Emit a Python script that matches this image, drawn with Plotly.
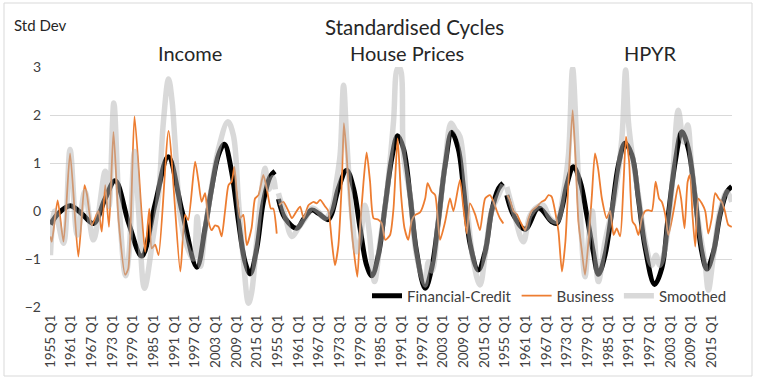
import plotly.graph_objects as go

PANELS = ["Income", "House Prices", "HPYR"]
TICK_YEARS = [1955, 1961, 1967, 1973, 1979, 1985, 1991, 1997, 2003, 2009, 2015]
QUARTERS_PER_PANEL = 264  # 1955 Q1 .. 2020 Q4

# ---- Income ----
INCOME_FC_YEARS = [1955.0, 1957.3, 1960.7, 1964.0, 1967.5, 1970.9, 1973.8, 1977.7, 1981.5, 1985.4,
                   1989.2, 1993.2, 1997.5, 1999.9, 2001.8, 2003.8, 2005.5, 2007.6, 2009.6, 2011.5,
                   2013.0, 2014.9, 2016.8, 2018.8, 2020.2]
INCOME_FC = [-0.28, -0.05, 0.11, -0.05, -0.26, 0.26, 0.63, -0.25, -0.94, 0.15,
             1.13, 0.0, -1.17, -0.36, 0.47, 1.17, 1.39, 0.82, -0.22, -1.06,
             -1.31, -0.78, 0.19, 0.72, 0.83]
INCOME_BUS_YEARS = [1955.0, 1955.4, 1957.1, 1958.8, 1960.7, 1963.1, 1964.9, 1965.6, 1967.0, 1968.9,
                    1969.9, 1970.9, 1972.0, 1973.3, 1974.8, 1976.7, 1977.6, 1979.4, 1981.5, 1982.5,
                    1983.7, 1984.4, 1985.4, 1986.4, 1989.3, 1992.7, 1994.1, 1995.0, 1997.0, 1998.0,
                    1998.9, 1999.9, 2000.9, 2001.8, 2002.8, 2003.8, 2004.7, 2005.7, 2006.7, 2007.6,
                    2008.4, 2009.1, 2010.1, 2011.0, 2012.0, 2013.4, 2014.4, 2015.4, 2016.8, 2017.8,
                    2019.0, 2019.7, 2020.7]
INCOME_BUS = [-0.53, -0.64, 0.22, -0.64, 1.2, -0.95, 0.54, 0.35, -0.3, 0.0,
              -0.43, 0.54, -0.33, 1.65, -0.2, -1.33, -1.2, 1.97, -0.08, -0.85,
              0.05, -0.78, -0.7, -0.92, 1.67, -1.26, -0.08, -0.19, 1.03, 0.61,
              0.19, 0.37, -0.22, -0.4, -0.3, -0.33, -0.53, 0.0, 0.54, 0.61,
              0.92, 0.4, -0.15, -0.08, -0.71, -0.35, 0.26, 0.33, 0.75, 0.47,
              0.05, 0.05, -0.47]
INCOME_SM_YEARS = [1955.0, 1956.3, 1958.8, 1960.7, 1962.8, 1965.0, 1967.5, 1970.9, 1972.0, 1973.4,
                   1974.8, 1976.8, 1977.8, 1979.4, 1980.6, 1982.3, 1984.5, 1986.4, 1987.8, 1989.3,
                   1990.3, 1991.2, 1992.7, 1994.5, 1996.5, 1997.6, 1998.6, 1999.9, 2001.8, 2003.8,
                   2006.5, 2008.1, 2009.6, 2011.0, 2012.5, 2013.4, 2014.9, 2016.3, 2017.3, 2018.4,
                   2019.6, 2020.3]
INCOME_SM = [-0.92, 0.0, -0.67, 1.28, -0.5, 0.4, -0.6, 0.83, 0.1, 2.25,
             0.3, -1.35, -0.9, 1.24, 0.0, -1.61, -0.7, 0.33, 1.86, 2.75,
             2.3, 1.4, -0.1, -0.7, -1.0, -0.12, -1.15, -0.4, 0.5, 1.3,
             1.86, 1.58, 0.2, -1.0, -1.92, -1.7, -0.6, 0.4, 0.89, 0.45,
             0.7, 0.45]

# ---- House Prices ----
HP_FC_YEARS = [1955.2, 1957.1, 1960.5, 1962.7, 1964.9, 1966.8, 1969.6, 1970.7, 1972.6, 1975.0,
               1977.0, 1978.9, 1980.8, 1982.3, 1984.2, 1986.2, 1988.1, 1989.8, 1991.5, 1993.4,
               1995.3, 1997.8, 1999.7, 2001.6, 2003.6, 2005.5, 2007.4, 2008.9, 2010.8, 2013.2,
               2015.2, 2017.1, 2019.1, 2020.4]
HP_FC = [0.25, -0.15, -0.36, -0.15, 0.02, -0.05, -0.18, -0.05, 0.47, 0.85,
         0.47, -0.36, -1.13, -1.35, -0.92, 0.12, 1.1, 1.57, 1.3, 0.33,
         -0.85, -1.61, -1.19, -0.22, 0.96, 1.64, 1.3, 0.5, -0.67, -1.23,
         -0.85, 0.0, 0.47, 0.58]
HP_BUS_YEARS = [1955.4, 1956.6, 1958.1, 1959.1, 1960.5, 1961.5, 1962.5, 1963.9, 1965.4, 1966.3,
                1967.3, 1968.7, 1969.7, 1970.7, 1971.6, 1972.6, 1973.6, 1974.2, 1975.0, 1976.0,
                1977.0, 1978.1, 1978.9, 1979.9, 1980.8, 1981.8, 1982.8, 1984.2, 1985.2, 1986.2,
                1987.6, 1988.6, 1989.8, 1990.8, 1991.8, 1992.9, 1993.9, 1994.9, 1996.3, 1997.8,
                1998.5, 1999.7, 2000.7, 2002.1, 2003.6, 2005.0, 2006.0, 2007.9, 2008.9, 2009.9,
                2010.8, 2012.3, 2013.7, 2015.2, 2016.6, 2017.6, 2018.6, 2019.5, 2020.5]
HP_BUS = [0.12, 0.19, 0.0, -0.15, 0.0, 0.09, -0.15, 0.12, 0.19, 0.16,
          0.23, 0.1, 0.0, -0.64, -1.13, -0.71, 0.61, 1.83, 1.17, 0.0,
          -0.78, -1.37, -0.36, 0.61, 1.22, 0.61, -0.15, -0.18, -0.26, -0.6,
          -0.5, 0.05, 1.51, 0.33, -0.36, -0.6, -0.2, -0.08, -0.03, 0.26,
          0.58, 0.4, 0.33, -0.6, -0.22, 0.26, 0.0, 0.65, 0.06, -0.47,
          0.16, -0.07, -0.4, 0.26, 0.33, 0.2, 0.0, -0.15, -0.26]
HP_SM_YEARS = [1955.2, 1957.1, 1959.1, 1961.0, 1963.0, 1964.9, 1966.8, 1968.7, 1970.7, 1972.0,
               1973.1, 1974.1, 1975.0, 1976.5, 1977.9, 1978.9, 1980.3, 1981.5, 1983.1, 1984.7,
               1986.6, 1988.6, 1989.8, 1990.5, 1991.5, 1993.4, 1995.3, 1997.8, 1998.7, 1999.8,
               2001.6, 2003.6, 2005.3, 2006.5, 2007.9, 2009.9, 2011.8, 2013.7, 2015.2, 2017.1,
               2019.1, 2020.4]
HP_SM = [0.37, -0.1, -0.53, -0.35, -0.15, 0.06, -0.02, -0.15, 0.05, 0.6,
         1.17, 2.62, 1.5, -0.08, -0.85, -0.6, 0.12, -0.4, -1.47, -0.64,
         0.33, 1.86, 2.97, 2.97, 1.17, 0.33, -0.92, -1.54, -1.06, -1.25,
         -0.22, 1.0, 1.83, 1.7, 1.55, 0.12, -1.05, -1.54, -0.92, 0.0,
         0.33, 0.55]

# ---- HPYR ----
HPYR_FC_YEARS = [1955.5, 1957.4, 1960.8, 1964.7, 1968.5, 1970.0, 1971.5, 1972.9, 1974.8, 1976.8,
                 1978.7, 1980.6, 1982.1, 1984.0, 1986.0, 1987.9, 1989.8, 1991.8, 1993.7, 1995.7,
                 1998.4, 2000.5, 2002.4, 2004.4, 2006.3, 2008.2, 2010.2, 2012.1, 2013.6, 2015.5,
                 2017.4, 2019.4, 2020.8]
HPYR_FC = [0.33, -0.08, -0.38, 0.06, -0.22, -0.26, 0.06, 0.54, 0.92, 0.61,
           -0.08, -0.85, -1.32, -0.92, 0.0, 0.96, 1.41, 1.17, 0.26, -0.78,
           -1.53, -1.19, -0.08, 1.03, 1.65, 1.3, 0.26, -0.85, -1.21, -0.85,
           -0.08, 0.4, 0.51]
HPYR_BUS_YEARS = [1955.7, 1956.6, 1957.4, 1958.4, 1959.4, 1960.8, 1961.8, 1962.7, 1964.2, 1965.6,
                  1966.6, 1967.6, 1968.5, 1969.5, 1970.5, 1971.5, 1972.5, 1973.4, 1974.6, 1975.4,
                  1976.3, 1977.2, 1978.2, 1979.2, 1980.2, 1981.1, 1982.0, 1983.1, 1984.5, 1985.5,
                  1986.5, 1987.4, 1988.4, 1989.4, 1990.1, 1991.0, 1992.0, 1992.8, 1993.7, 1994.7,
                  1995.7, 1996.6, 1997.6, 1998.7, 1999.7, 2000.5, 2001.5, 2002.4, 2003.9, 2005.3,
                  2006.1, 2007.1, 2008.0, 2008.7, 2009.4, 2010.2, 2011.1, 2012.1, 2013.1, 2014.0,
                  2015.0, 2016.0, 2017.0, 2017.9, 2018.8, 2019.8, 2020.8]
HPYR_BUS = [0.33, 0.19, 0.0, -0.07, -0.22, -0.4, -0.15, 0.0, 0.09, 0.19,
            0.23, 0.33, 0.3, 0.0, -0.43, -1.26, -0.64, 0.61, 2.1, 1.17,
            -0.22, -0.78, -1.33, -0.64, 0.33, 1.2, 0.89, 0.26, -0.15, 0.0,
            -0.5, -0.36, -0.53, 0.61, 1.55, 1.03, -0.22, -0.3, -0.5, -0.15,
            0.0, 0.02, 0.0, 0.61, 0.26, 0.19, -0.08, -0.5, 0.0, 0.54,
            0.26, -0.36, 0.61, 0.75, -0.08, -0.74, 0.26, 0.16, 0.0, -0.47,
            -0.15, 0.37, 0.26, 0.19, 0.0, -0.29, -0.33]
HPYR_SM_YEARS = [1955.5, 1957.4, 1960.3, 1962.2, 1964.5, 1966.1, 1968.0, 1970.0, 1972.0, 1973.4,
                 1974.6, 1975.8, 1976.8, 1978.2, 1979.2, 1980.3, 1981.0, 1982.1, 1984.0, 1986.9,
                 1988.9, 1990.0, 1990.8, 1991.8, 1993.7, 1995.7, 1997.6, 1998.8, 1999.9, 2001.5,
                 2003.4, 2005.3, 2006.8, 2008.0, 2009.2, 2011.1, 2013.1, 2014.0, 2015.5, 2017.4,
                 2019.4, 2020.8]
HPYR_SM = [0.5, 0.0, -0.64, -0.1, 0.09, 0.12, -0.15, -0.22, 0.4, 1.17,
           2.97, 1.4, -0.05, -1.37, -0.6, 0.0, -0.6, -1.47, -0.64, 0.33,
           1.51, 2.94, 1.86, 1.24, 0.33, -0.64, -1.13, -0.92, -1.13, -0.76,
           0.47, 2.1, 1.44, 1.79, 0.89, -0.22, -1.13, -1.65, -0.92, 0.0,
           0.4, 0.19]

SERIES = {
    "Financial-Credit": [(INCOME_FC_YEARS, INCOME_FC), (HP_FC_YEARS, HP_FC), (HPYR_FC_YEARS, HPYR_FC)],
    "Business": [(INCOME_BUS_YEARS, INCOME_BUS), (HP_BUS_YEARS, HP_BUS), (HPYR_BUS_YEARS, HPYR_BUS)],
    "Smoothed": [(INCOME_SM_YEARS, INCOME_SM), (HP_SM_YEARS, HP_SM), (HPYR_SM_YEARS, HPYR_SM)],
}
STYLE = {
    "Financial-Credit": dict(color="#000000", width=5, smoothing=1.0),
    "Business": dict(color="#ED7D31", width=1.8, smoothing=0.6),
    "Smoothed": dict(color="rgba(180,180,180,0.5)", width=5.5, smoothing=1.0),
}


def to_x(panel, year):
    # quarter index along the concatenated category axis
    return panel * QUARTERS_PER_PANEL + (year - 1955) * 4 + 0.5


def px_x(x):
    # pixel column -> paper x (plot area spans 50..732)
    return (x - 50) / 682


def px_y(y):
    # pixel row -> paper y (plot area spans 67..307)
    return (307 - y) / 240


fig = go.Figure()
for name, parts in SERIES.items():
    st = STYLE[name]
    for p, (yrs, vals) in enumerate(parts):
        fig.add_trace(go.Scatter(
            x=[to_x(p, y) for y in yrs],
            y=vals,
            mode="lines",
            name=name,
            legendgroup=name,
            showlegend=(p == 0),
            line=dict(color=st["color"], width=st["width"], shape="spline",
                      smoothing=st["smoothing"]),
            hoverinfo="skip",
        ))

tickvals, ticktext = [], []
for p in range(len(PANELS)):
    for yr in TICK_YEARS:
        tickvals.append(to_x(p, yr))
        ticktext.append(f"{yr} Q1")

FONT = "Lato, 'Open Sans', sans-serif"
TXT = "#404040"
HEAD = "#262626"

heads = [
    ("Standardised Cycles", 414, 27, 20.5),
    ("Income", 190, 53, 20),
    ("House Prices", 407, 53, 20),
    ("HPYR", 650, 53, 20),
]
annotations = [
    dict(text=t, x=px_x(x), y=px_y(y), xanchor="center", yanchor="middle",
         xref="paper", yref="paper", showarrow=False, font=dict(size=s, color=HEAD))
    for t, x, y, s in heads
]
annotations.append(
    dict(text="Std Dev", x=px_x(12), y=px_y(25), xanchor="left", yanchor="middle",
         xref="paper", yref="paper", showarrow=False, font=dict(size=15, color=HEAD))
)

fig.update_layout(
    width=760, height=381,
    margin=dict(l=50, r=28, t=67, b=74),
    paper_bgcolor="white", plot_bgcolor="white",
    font=dict(family=FONT, color=TXT, size=14),
    showlegend=True,
    legend=dict(orientation="h", x=1.0, xanchor="right", y=0.046, yanchor="middle",
                bgcolor="rgba(0,0,0,0)", font=dict(size=15, color=TXT),
                itemwidth=30, tracegroupgap=0),
    xaxis=dict(range=[0, 3 * QUARTERS_PER_PANEL], tickmode="array", tickvals=tickvals,
               ticktext=ticktext, tickangle=-90, showgrid=False, zeroline=False,
               showline=False, ticks="", tickfont=dict(size=13.5, color=TXT),
               ticklabelstandoff=4),
    yaxis=dict(range=[-2, 3], dtick=1, showgrid=True, gridcolor="#D9D9D9", gridwidth=1,
               zeroline=False, showline=False, ticks="", tickfont=dict(size=14, color=TXT),
               ticklabelstandoff=8),
    annotations=annotations,
    shapes=[
        dict(type="rect", xref="paper", yref="paper",
             x0=px_x(4), x1=px_x(752), y0=px_y(376), y1=px_y(3),
             line=dict(color="#D9D9D9", width=1), layer="below"),
    ],
)

fig.write_html("out.html", config={"displayModeBar": False},
               post_script="document.body.style.margin='0px';")
